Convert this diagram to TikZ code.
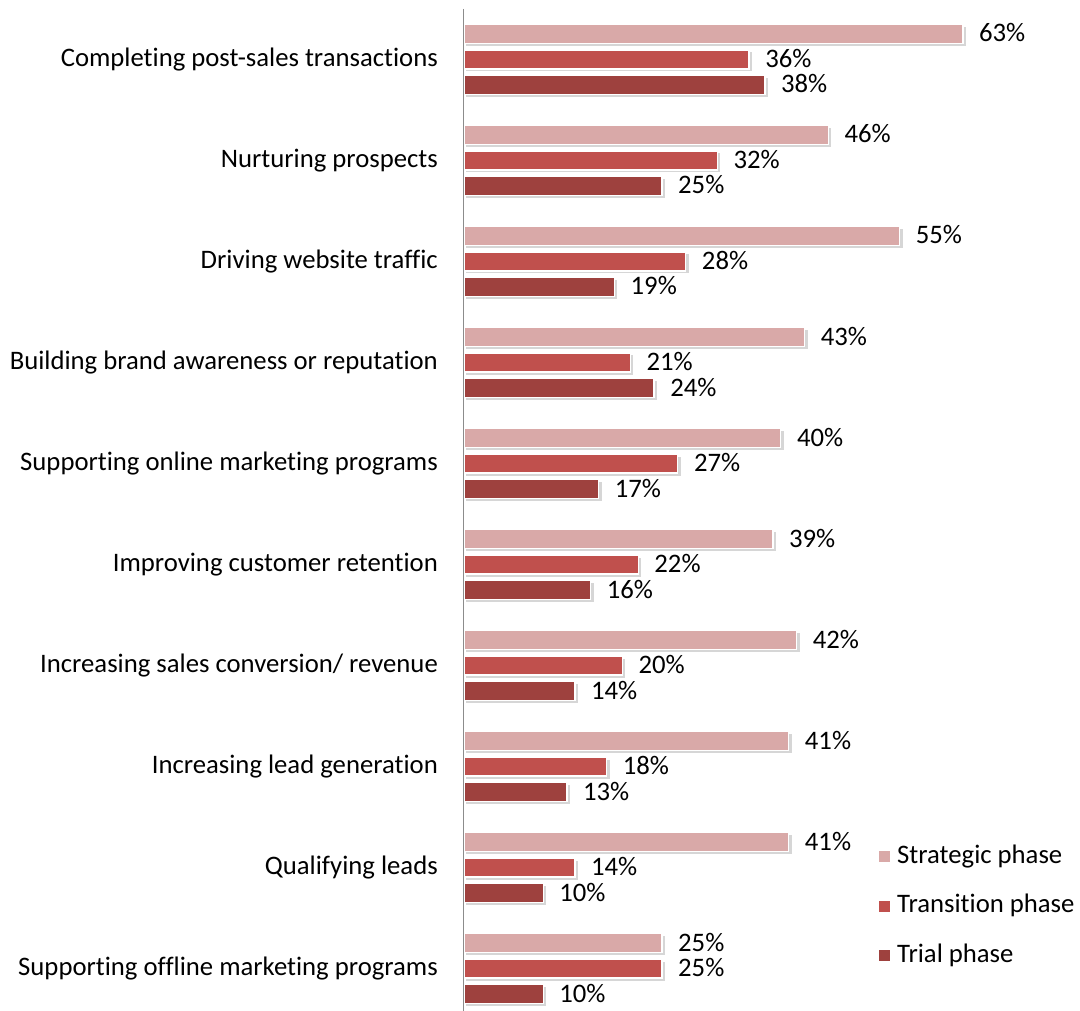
\documentclass[tikz,border=0pt]{standalone}
\usepackage{fontspec}
\setmainfont[Ligatures=CommonOff]{Carlito}
\definecolor{strategic}{HTML}{D9A9A8}
\definecolor{transition}{HTML}{C0504D}
\definecolor{trial}{HTML}{9E413E}
\begin{document}
\begin{tikzpicture}[x=1pt,y=-1pt,
    lbl/.style={font=\fontsize{26.7}{31}\selectfont,inner sep=0pt},
    barshadow/.style={fill=black!16},
    bar/.style={draw=white,line width=1.3pt}]
    \useasboundingbox (0,0) rectangle (1080,1011);
    \foreach \cat/\s/\t/\r [count=\i from 0] in {Completing post-sales transactions~/63/36/38,Nurturing prospects/46/32/25,Driving website traffic/55/28/19,Building brand awareness or reputation/43/21/24,Supporting online marketing programs/40/27/17,Improving customer retention/39/22/16,{Increasing sales conversion/ revenue}/42/20/14,Increasing lead generation/41/18/13,Qualifying leads/41/14/10,Supporting offline marketing programs/25/25/10}
    {
        \pgfmathsetmacro\yc{59.5+101*\i}
        \node[lbl,anchor=base east] (cat\i) at (438,\yc+7) {\cat};
        \foreach \v/\dy/\col/\tag in {\s/-25.5/strategic/s,\t/0/transition/t,\r/25.5/trial/r}
        {
            \fill[barshadow] (466,\yc+\dy-7) rectangle (464+\v*7.92+3,\yc+\dy+12);
            \filldraw[bar,fill=\col] (464,\yc+\dy-9.5) rectangle (464+\v*7.92,\yc+\dy+9.5);
            \node[lbl,anchor=base west] (val\i\tag) at (464+\v*7.92+16,\yc+\dy+8) {\v\%};
        }
    }
    \draw[line width=1.6pt,black!45] (463.5,9) -- (463.5,1011);
    % legend
    \foreach \name/\col [count=\j from 0] in {Strategic phase/strategic,Transition phase/transition,Trial phase/trial}
    {
        \fill[\col] (879,851+49.5*\j) rectangle (890,862+49.5*\j);
        \node[lbl,anchor=base west] (leg\j) at (897,863+49.5*\j) {\name};
    }
\end{tikzpicture}
\end{document}
